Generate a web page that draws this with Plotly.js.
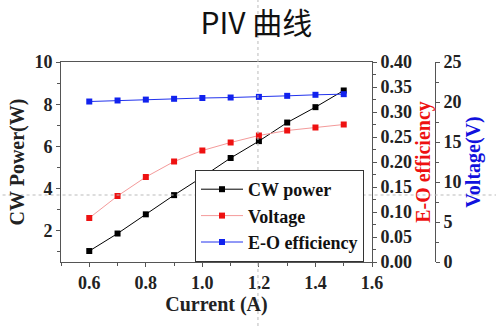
<!DOCTYPE html>
<html><head><meta charset="utf-8">
<script src="https://cdn.plot.ly/plotly-3.0.1.min.js"></script>
<style>html,body{margin:0;padding:0;background:#fff}#c{width:496px;height:326px}</style>
</head><body><div id="c"></div>
<script>
const current = [0.6, 0.7, 0.8, 0.9, 1.0, 1.1, 1.2, 1.3, 1.4, 1.5];
const cwPower = [1.04, 1.87, 2.78, 3.69, 4.55, 5.45, 6.25, 7.13, 7.86, 8.65];
const redSeries = [0.088, 0.132, 0.170, 0.201, 0.223, 0.239, 0.253, 0.263, 0.269, 0.275];
const blueSeries = [20.06, 20.19, 20.3, 20.4, 20.5, 20.56, 20.64, 20.77, 20.9, 20.98];
const names = ['CW power', 'Voltage', 'E-O efficiency'];

const fam = 'Liberation Serif, Times New Roman, serif';
const tickF = {family: fam, size: 18, color: '#222', weight: 700};
const titleF = {family: fam, size: 20, color: '#222', weight: 700};
const minorT = {ticks: 'outside', ticklen: 3, tickcolor: '#555'};
const axBase = {showline: true, linecolor: '#555', linewidth: 1, ticks: 'outside', ticklen: 4, tickcolor: '#555',
  showgrid: false, zeroline: false, tickfont: tickF};

const traces = [
  {x: current, y: cwPower, name: names[0], mode: 'lines+markers', line: {color: '#000', width: 1},
   marker: {symbol: 'square', size: 6, color: '#000'}, yaxis: 'y'},
  {x: current, y: redSeries, name: names[1], mode: 'lines+markers', line: {color: '#f49a9a', width: 1},
   marker: {symbol: 'square', size: 6, color: '#ee1111'}, yaxis: 'y2'},
  {x: current, y: blueSeries, name: names[2], mode: 'lines+markers', line: {color: '#2233ee', width: 1},
   marker: {symbol: 'square', size: 6, color: '#1122ee'}, yaxis: 'y3'}
];

const layout = {
  width: 496, height: 326,
  margin: {l: 61, r: 56, t: 62, b: 64},
  paper_bgcolor: '#fff', plot_bgcolor: '#fff',
  title: {text: 'PIV 曲线', font: {family: 'Noto Sans CJK SC, Noto Sans', size: 30, color: '#111'}, x: 0.517, xanchor: 'center', y: 0.96, yanchor: 'top'},
  showlegend: true,
  legend: {x: 0.3536, y: 0, xanchor: 'left', yanchor: 'bottom', bordercolor: '#333', borderwidth: 1,
    bgcolor: '#fff', font: {family: fam, size: 18, color: '#111', weight: 700},
    tracegroupgap: 0, itemwidth: 42},
  xaxis: Object.assign({}, axBase, {domain: [0, 0.8206], range: [0.5, 1.6], dtick: 0.2, tick0: 0.6, tickformat: '.1f',
    mirror: true, minor: Object.assign({dtick: 0.1}, minorT),
    title: {text: '<b>Current (A)</b>', font: titleF, standoff: 1}}),
  yaxis: Object.assign({}, axBase, {range: [0.52, 10], dtick: 2, tick0: 0,
    minor: Object.assign({dtick: 1}, minorT),
    title: {text: '<b>CW Power(W)</b>', font: titleF, standoff: 4}}),
  yaxis2: Object.assign({}, axBase, {overlaying: 'y', side: 'right', anchor: 'x', range: [0, 0.40], dtick: 0.05, tickformat: '.2f',
    minor: Object.assign({dtick: 0.025}, minorT),
    title: {text: '<b>E-O efficiency</b>', font: Object.assign({}, titleF, {color: '#ee1111'}), standoff: 0}}),
  yaxis3: Object.assign({}, axBase, {overlaying: 'y', side: 'right', anchor: 'free', position: 0.9868, range: [0, 25], dtick: 5,
    minor: Object.assign({dtick: 2.5}, minorT),
    title: {text: '<b>Voltage(V)</b>', font: Object.assign({}, titleF, {color: '#1111dd'}), standoff: 0}}),
  shapes: [
    {type: 'line', xref: 'paper', yref: 'paper', x0: -0.17, x1: 1.17, y0: 0.335, y1: 0.335, layer: 'above',
     line: {color: '#bbb', width: 1, dash: 'dot'}},
    {type: 'line', xref: 'paper', yref: 'paper', x0: 0.5197, x1: 0.5197, y0: -0.32, y1: 1.32, layer: 'above',
     line: {color: '#bbb', width: 1, dash: 'dot'}}
  ]
};
Plotly.newPlot('c', traces, layout, {displayModeBar: false, staticPlot: true});
</script></body></html>
